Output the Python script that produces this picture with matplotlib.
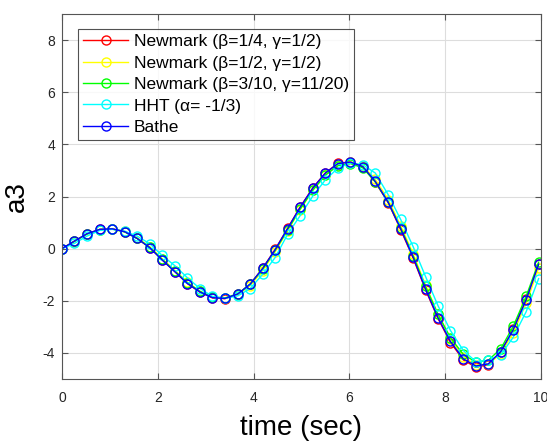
import matplotlib
matplotlib.use("Agg")
import matplotlib.pyplot as plt

plt.rcParams['font.family'] = ['Liberation Sans', 'DejaVu Sans']
plt.rcParams['axes.unicode_minus'] = False

time = [0.00, 0.26, 0.52, 0.79, 1.05, 1.31, 1.57, 1.83, 2.09, 2.36, 2.62, 2.88,
        3.14, 3.40, 3.67, 3.93, 4.19, 4.45, 4.71, 4.97, 5.24, 5.50, 5.76, 6.02,
        6.28, 6.54, 6.81, 7.07, 7.33, 7.59, 7.85, 8.11, 8.38, 8.64, 8.90, 9.16,
        9.42, 9.69, 9.95]

newmark_avg = [0, 0.29, 0.57, 0.74, 0.76, 0.65, 0.39, 0.04, -0.43, -0.89, -1.34, -1.67,
               -1.89, -1.92, -1.75, -1.36, -0.75, -0.03, 0.78, 1.59, 2.34, 2.91, 3.27, 3.33,
               3.14, 2.56, 1.76, 0.73, -0.36, -1.58, -2.68, -3.60, -4.27, -4.55, -4.45, -3.96,
               -3.10, -1.94, -0.58]
newmark_half = [0, 0.27, 0.55, 0.73, 0.76, 0.66, 0.42, 0.08, -0.38, -0.84, -1.29, -1.63,
                -1.86, -1.91, -1.77, -1.42, -0.84, -0.12, 0.68, 1.50, 2.25, 2.84, 3.22, 3.32,
                3.18, 2.66, 1.88, 0.88, -0.20, -1.40, -2.52, -3.46, -4.15, -4.46, -4.43, -4.03,
                -3.22, -2.10, -0.75]
newmark_damped = [0, 0.28, 0.56, 0.73, 0.75, 0.64, 0.39, 0.05, -0.41, -0.87, -1.31, -1.64,
                  -1.85, -1.89, -1.73, -1.36, -0.78, -0.07, 0.72, 1.51, 2.25, 2.82, 3.18, 3.26,
                  3.10, 2.56, 1.78, 0.80, -0.27, -1.45, -2.52, -3.42, -4.06, -4.35, -4.28, -3.84,
                  -2.98, -1.83, -0.52]
hht = [0, 0.20, 0.48, 0.70, 0.74, 0.67, 0.48, 0.19, -0.26, -0.66, -1.12, -1.53,
       -1.83, -1.91, -1.81, -1.53, -0.98, -0.34, 0.55, 1.26, 2.03, 2.64, 3.09, 3.28,
       3.22, 2.90, 2.07, 1.12, 0.08, -1.07, -2.19, -3.14, -3.91, -4.33, -4.29, -4.07,
       -3.40, -2.42, -1.15]
bathe = [0, 0.29, 0.57, 0.74, 0.76, 0.65, 0.39, 0.04, -0.43, -0.89, -1.34, -1.66,
         -1.88, -1.91, -1.74, -1.36, -0.76, -0.04, 0.77, 1.58, 2.33, 2.90, 3.26, 3.32,
         3.15, 2.58, 1.78, 0.76, -0.33, -1.55, -2.65, -3.56, -4.23, -4.50, -4.42, -3.95,
         -3.11, -1.96, -0.60]

labels = ['Newmark (β=1/4, γ=1/2)', 'Newmark (β=1/2, γ=1/2)',
          'Newmark (β=3/10, γ=11/20)', 'HHT (α= -1/3)', 'Bathe']
series = [newmark_avg, newmark_half, newmark_damped, hht, bathe]
colors = ['#ff0000', '#ffff00', '#00ff00', '#00ffff', '#0000ff']

fig = plt.figure(figsize=(5.47, 4.41), dpi=100)
ax = fig.add_axes([62/547, 62/441, (541-62)/547, (379-14)/441])

for y, c, lab in zip(series, colors, labels):
    ax.plot(time, y, '-o', color=c, mfc='none', mec=c, lw=1.0, ms=6.5, mew=1.0, label=lab)

ax.set_xlim(0, 10)
ax.set_ylim(-5, 9)
ax.set_xticks([0, 2, 4, 6, 8, 10])
ax.set_yticks([-4, -2, 0, 2, 4, 6, 8])
ax.grid(True, color='#dddddd', lw=0.8)
ax.set_axisbelow(True)
gray = '#262626'
for s in ax.spines.values():
    s.set_color('#555555')
    s.set_linewidth(0.8)
ax.tick_params(direction='in', length=4, width=0.8, colors='#555555',
               labelcolor=gray, labelsize=10, top=True, right=True)
ax.tick_params(axis='x', pad=9)
ax.tick_params(axis='y', pad=5)

ax.set_xlabel('time (sec)', fontsize=20, color='black', labelpad=7)
ax.set_ylabel('a3', fontsize=20, color='black', labelpad=9)

leg = ax.legend(loc='upper left', bbox_to_anchor=(16/479, 1-(29-14)/365), fontsize=12.5,
                frameon=True, fancybox=False, edgecolor='#262626', borderpad=0.3,
                labelspacing=0.36, handlelength=2.6, handletextpad=0.3, borderaxespad=0)
leg.get_frame().set_linewidth(0.8)

fig.savefig('out.png', dpi=100)
